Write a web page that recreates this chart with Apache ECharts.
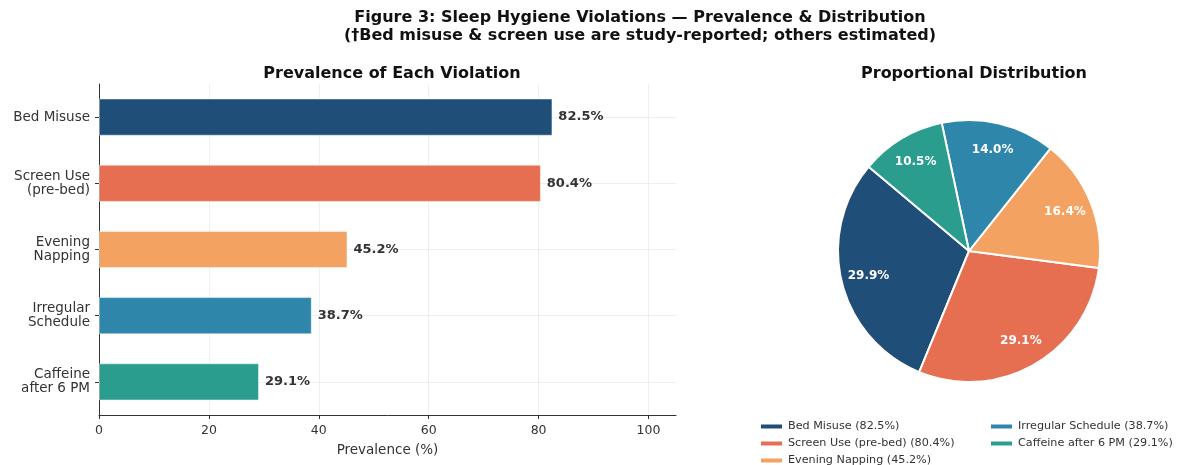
<!DOCTYPE html>
<html>
<head>
<meta charset="utf-8">
<script src="https://cdn.jsdelivr.net/npm/echarts@6/dist/echarts.min.js"></script>
<style>
html,body{margin:0;padding:0;background:#fff;}
#c{width:1184px;height:465px;}
</style>
</head>
<body>
<div id="c"></div>
<script>
const categories = ['Bed Misuse', 'Screen Use\n(pre-bed)', 'Evening\nNapping', 'Irregular\nSchedule', 'Caffeine\nafter 6 PM'];
const legendNames = ['Bed Misuse (82.5%)', 'Screen Use (pre-bed) (80.4%)', 'Evening Napping (45.2%)', 'Irregular Schedule (38.7%)', 'Caffeine after 6 PM (29.1%)'];
const prevalence = [82.5, 80.4, 45.2, 38.7, 29.1];
const colors = ['#1f4e79', '#e76f51', '#f4a261', '#2e86ab', '#2a9d8f'];
const xTicks = [0, 20, 40, 60, 80, 100];

const font = 'DejaVu Sans';
const chart = echarts.init(document.getElementById('c'), null, {renderer: 'canvas'});

const total = prevalence.reduce((a, b) => a + b, 0);
const gridColor = '#ebebeb';

const legendCommon = {
  orient: 'vertical', top: 420, height: 60, padding: 0, itemGap: 4,
  itemWidth: 23, itemHeight: 6, icon: 'rect',
  textStyle: {fontFamily: font, fontSize: 11.2, color: '#333', lineHeight: 13}
};

chart.setOption({
  backgroundColor: '#ffffff',
  animation: false,
  textStyle: {fontFamily: font},
  title: [
    {
      text: 'Figure 3: Sleep Hygiene Violations \u2014 Prevalence & Distribution\n(\u2020Bed misuse & screen use are study-reported; others estimated)',
      left: 635, top: 4, textAlign: 'center',
      textStyle: {fontFamily: font, fontSize: 16, fontWeight: 'bold', color: '#111', lineHeight: 18}
    },
    {
      text: 'Prevalence of Each Violation',
      left: 387, top: 61, textAlign: 'center',
      textStyle: {fontFamily: font, fontSize: 16, fontWeight: 'bold', color: '#111'}
    },
    {
      text: 'Proportional Distribution',
      left: 969, top: 61, textAlign: 'center',
      textStyle: {fontFamily: font, fontSize: 16, fontWeight: 'bold', color: '#111'}
    }
  ],
  grid: {left: 99, top: 84, width: 577, height: 331, containLabel: false},
  xAxis: {
    type: 'value', min: 0, max: 105, interval: 20,
    name: 'Prevalence (%)', nameLocation: 'middle', nameGap: 28,
    nameTextStyle: {fontFamily: font, fontSize: 13.5, color: '#333'},
    axisLine: {show: true, lineStyle: {color: '#333', width: 1}},
    axisTick: {show: true, length: 4, lineStyle: {color: '#333'}, customValues: xTicks},
    axisLabel: {fontFamily: font, fontSize: 12.5, color: '#333', margin: 9, customValues: xTicks},
    splitLine: {show: true, lineStyle: {color: gridColor, width: 0.8}}
  },
  yAxis: {
    type: 'category', data: categories, inverse: true,
    axisLine: {show: true, lineStyle: {color: '#333', width: 1}},
    axisTick: {show: true, alignWithLabel: true, length: 4, lineStyle: {color: '#333'}},
    axisLabel: {fontFamily: font, fontSize: 13.5, color: '#333', margin: 9, lineHeight: 14},
    splitLine: {show: false}
  },
  legend: [
    Object.assign({}, legendCommon, {left: 759, data: legendNames.slice(0, 3)}),
    Object.assign({}, legendCommon, {left: 989, data: legendNames.slice(3)})
  ],
  series: [
    {
      type: 'pie',
      center: [969, 251], radius: 131,
      startAngle: 140, clockwise: false,
      data: prevalence.map((v, i) => ({name: legendNames[i], value: v, itemStyle: {color: colors[i]}})),
      itemStyle: {borderColor: '#ffffff', borderWidth: 2},
      label: {show: false},
      labelLine: {show: false},
      emphasis: {disabled: true},
      z: 2
    },
    {
      type: 'pie',
      center: [969, 251], radius: [70, 131],
      startAngle: 140, clockwise: false,
      silent: true,
      data: prevalence.map((v, i) => ({name: legendNames[i], value: v})),
      itemStyle: {color: 'rgba(0,0,0,0)', opacity: 0},
      label: {
        show: true, position: 'inside',
        formatter: p => (p.value / total * 100).toFixed(1) + '%',
        fontFamily: font, fontSize: 12, fontWeight: 'bold', color: '#ffffff', opacity: 1
      },
      labelLine: {show: false},
      emphasis: {disabled: true},
      z: 3
    },
    {
      type: 'line',
      data: categories.map(() => null),
      silent: true,
      symbol: 'none',
      z: 1,
      markLine: {
        silent: true, symbol: 'none', label: {show: false}, z: 1,
        lineStyle: {color: gridColor, width: 0.8, type: 'solid'},
        data: categories.map(c => ({yAxis: c}))
      }
    },
    {
      type: 'bar',
      data: prevalence.map((v, i) => ({value: v, itemStyle: {color: colors[i]}})),
      barWidth: 37,
      itemStyle: {borderColor: 'rgba(255,255,255,0.6)', borderWidth: 0.8},
      label: {
        show: true, position: 'right', distance: 6,
        formatter: p => p.value.toFixed(1) + '%',
        fontFamily: font, fontSize: 13, fontWeight: 'bold', color: '#333'
      },
      z: 3
    }
  ]
});
</script>
</body>
</html>
